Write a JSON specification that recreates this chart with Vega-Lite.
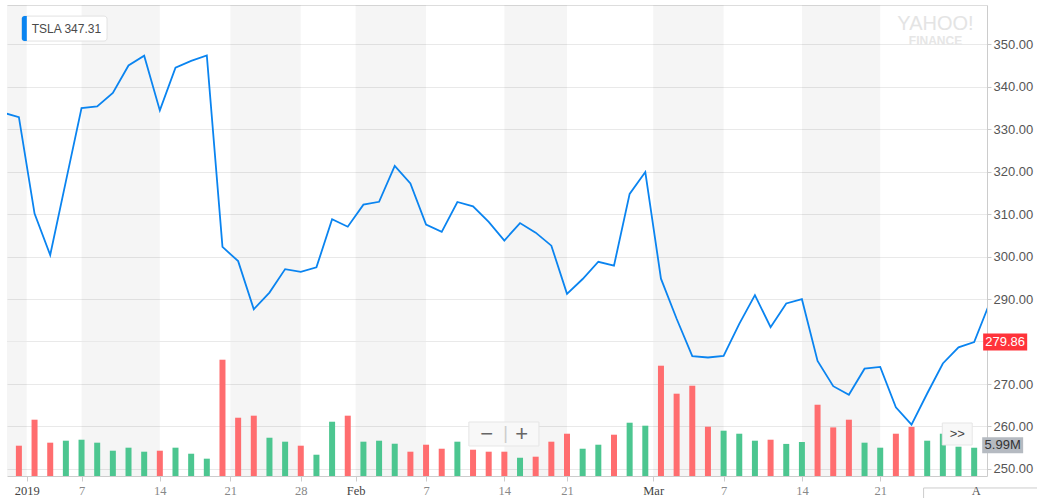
{
  "$schema": "https://vega.github.io/schema/vega-lite/v6.json",
  "width": 980,
  "height": 471,
  "autosize": {"type": "none"},
  "padding": {"left": 7, "top": 5, "right": 50, "bottom": 22},
  "background": "white",
  "config": {"view": {"stroke": null}},
  "datasets": {
    "prices": [
      {"date": "2018-12-28", "close": 333.87, "volume": null},
      {"date": "2018-12-31", "close": 332.80, "volume": 6.42},
      {"date": "2019-01-02", "close": 310.12, "volume": 11.93},
      {"date": "2019-01-03", "close": 300.36, "volume": 7.06},
      {"date": "2019-01-04", "close": 317.69, "volume": 7.48},
      {"date": "2019-01-07", "close": 334.96, "volume": 7.69},
      {"date": "2019-01-08", "close": 335.35, "volume": 7.06},
      {"date": "2019-01-09", "close": 338.53, "volume": 5.36},
      {"date": "2019-01-10", "close": 344.97, "volume": 6.00},
      {"date": "2019-01-11", "close": 347.26, "volume": 5.15},
      {"date": "2019-01-14", "close": 334.40, "volume": 5.36},
      {"date": "2019-01-15", "close": 344.43, "volume": 6.00},
      {"date": "2019-01-16", "close": 346.05, "volume": 4.72},
      {"date": "2019-01-17", "close": 347.31, "volume": 3.67},
      {"date": "2019-01-18", "close": 302.26, "volume": 24.64},
      {"date": "2019-01-22", "close": 298.92, "volume": 12.35},
      {"date": "2019-01-23", "close": 287.59, "volume": 12.78},
      {"date": "2019-01-24", "close": 291.51, "volume": 8.11},
      {"date": "2019-01-25", "close": 297.04, "volume": 7.27},
      {"date": "2019-01-28", "close": 296.38, "volume": 6.42},
      {"date": "2019-01-29", "close": 297.46, "volume": 4.51},
      {"date": "2019-01-30", "close": 308.77, "volume": 11.50},
      {"date": "2019-01-31", "close": 307.02, "volume": 12.78},
      {"date": "2019-02-01", "close": 312.21, "volume": 7.27},
      {"date": "2019-02-04", "close": 312.89, "volume": 7.48},
      {"date": "2019-02-05", "close": 321.35, "volume": 6.84},
      {"date": "2019-02-06", "close": 317.22, "volume": 5.15},
      {"date": "2019-02-07", "close": 307.51, "volume": 6.63},
      {"date": "2019-02-08", "close": 305.80, "volume": 5.78},
      {"date": "2019-02-11", "close": 312.84, "volume": 7.27},
      {"date": "2019-02-12", "close": 311.81, "volume": 5.57},
      {"date": "2019-02-13", "close": 308.17, "volume": 5.15},
      {"date": "2019-02-14", "close": 303.77, "volume": 5.15},
      {"date": "2019-02-15", "close": 307.88, "volume": 3.88},
      {"date": "2019-02-19", "close": 305.62, "volume": 4.09},
      {"date": "2019-02-20", "close": 302.56, "volume": 7.27},
      {"date": "2019-02-21", "close": 291.23, "volume": 8.96},
      {"date": "2019-02-22", "close": 294.71, "volume": 5.78},
      {"date": "2019-02-25", "close": 298.77, "volume": 6.63},
      {"date": "2019-02-26", "close": 297.86, "volume": 8.75},
      {"date": "2019-02-27", "close": 314.74, "volume": 11.29},
      {"date": "2019-02-28", "close": 319.88, "volume": 10.66},
      {"date": "2019-03-01", "close": 294.79, "volume": 23.37},
      {"date": "2019-03-04", "close": 285.36, "volume": 17.44},
      {"date": "2019-03-05", "close": 276.54, "volume": 19.13},
      {"date": "2019-03-06", "close": 276.24, "volume": 10.44},
      {"date": "2019-03-07", "close": 276.59, "volume": 9.60},
      {"date": "2019-03-08", "close": 284.14, "volume": 8.96},
      {"date": "2019-03-11", "close": 290.92, "volume": 7.48},
      {"date": "2019-03-12", "close": 283.36, "volume": 7.69},
      {"date": "2019-03-13", "close": 288.96, "volume": 6.80},
      {"date": "2019-03-14", "close": 289.96, "volume": 7.20},
      {"date": "2019-03-15", "close": 275.43, "volume": 15.10},
      {"date": "2019-03-18", "close": 269.49, "volume": 10.30},
      {"date": "2019-03-19", "close": 267.47, "volume": 11.93},
      {"date": "2019-03-20", "close": 273.60, "volume": 7.06},
      {"date": "2019-03-21", "close": 274.02, "volume": 6.00},
      {"date": "2019-03-22", "close": 264.53, "volume": 8.96},
      {"date": "2019-03-25", "close": 260.42, "volume": 10.40},
      {"date": "2019-03-26", "close": 267.77, "volume": 7.48},
      {"date": "2019-03-27", "close": 274.83, "volume": 8.96},
      {"date": "2019-03-28", "close": 278.62, "volume": 6.21},
      {"date": "2019-03-29", "close": 279.86, "volume": 5.99},
      {"date": "2019-04-01", "close": 289.18, "volume": null}
    ],
    "bands": [
      {"from": 1, "to": 2.5},
      {"from": 6, "to": 11},
      {"from": 15.5, "to": 20},
      {"from": 23.5, "to": 28},
      {"from": 33, "to": 37},
      {"from": 42.5, "to": 47},
      {"from": 52, "to": 57}
    ]
  },
  "layer": [
    {
      "data": {"name": "bands"},
      "mark": {"type": "rect", "fill": "#000000", "opacity": 0.04, "clip": true},
      "encoding": {
        "x": {
          "field": "from",
          "type": "quantitative",
          "scale": {"domain": [1.56, 63.5], "nice": false, "zero": false},
          "axis": {
            "orient": "bottom",
            "title": null,
            "grid": false,
            "values": [2.5, 6, 11, 15.5, 20, 23.5, 28, 33, 37, 42.5, 47, 52, 57],
            "labelExpr": "['2019','7','14','21','28','Feb','7','14','21','Mar','7','14','21'][indexof([2.5,6,11,15.5,20,23.5,28,33,37,42.5,47,52,57], datum.value)]",
            "labelFont": "Liberation Serif",
            "labelFontSize": 12.5,
            "labelColor": {"condition": {"test": "indexof([2.5,23.5,42.5], datum.value) >= 0", "value": "#444444"}, "value": "#888888"},
            "labelPadding": 3,
            "labelFlush": false,
            "labelOverlap": false,
            "labelBound": false,
            "domainColor": "#cccccc",
            "tickColor": "#cccccc",
            "tickSize": 5
          }
        },
        "x2": {"field": "to"}
      }
    },
    {
      "data": {"values": [{}]},
      "mark": {"type": "rule", "color": "#e9e9e9", "strokeWidth": 1},
      "encoding": {
        "y": {"datum": 280, "type": "quantitative", "scale": {"domain": [248.35, 359.2], "nice": false, "zero": false}, "axis": null}
      }
    },
    {
      "data": {"name": "prices"},
      "transform": [
        {"window": [{"op": "row_number", "as": "n"}, {"op": "lag", "field": "close", "as": "prev"}], "sort": [{"field": "date", "order": "ascending"}]}
      ],
      "mark": {"type": "bar", "width": 6, "orient": "vertical", "clip": true},
      "encoding": {
        "x": {"field": "n", "type": "quantitative", "scale": {"domain": [1.56, 63.5], "nice": false, "zero": false}, "axis": null},
        "y": {"field": "volume", "type": "quantitative", "scale": {"domain": [0, 99.8], "nice": false}, "axis": null},
        "color": {"condition": {"test": "datum.close >= datum.prev", "value": "#4cc690"}, "value": "#ff6d6f"}
      }
    },
    {
      "data": {"name": "prices"},
      "transform": [
        {"window": [{"op": "row_number", "as": "n"}], "sort": [{"field": "date", "order": "ascending"}]}
      ],
      "mark": {"type": "line", "color": "#0a84f0", "strokeWidth": 1.8, "clip": true},
      "encoding": {
        "x": {
          "field": "n",
          "type": "quantitative",
          "scale": {"domain": [1.56, 63.5], "nice": false, "zero": false},
          "axis": {"orient": "top", "title": null, "labels": false, "ticks": false, "grid": false, "domainColor": "#dddddd"}
        },
        "y": {
          "field": "close",
          "type": "quantitative",
          "scale": {"domain": [248.35, 359.2], "nice": false, "zero": false},
          "axis": {
            "orient": "right",
            "title": null,
            "values": [250, 260, 270, 290, 300, 310, 320, 330, 340, 350],
            "format": ".2f",
            "grid": true,
            "gridColor": "#e9e9e9",
            "domainColor": "#cccccc",
            "tickColor": "#cccccc",
            "tickSize": 4,
            "labelPadding": 2,
            "labelFont": "Liberation Sans",
            "labelFontSize": 13,
            "labelColor": "#555555"
          }
        }
      }
    },
    {
      "data": {"values": [{}]},
      "layer": [
        {"mark": {"type": "rect", "fill": "white", "stroke": "#e2e2e2", "strokeWidth": 1, "cornerRadius": 3},
         "encoding": {
           "x": {"datum": 2.19, "type": "quantitative", "scale": {"domain": [1.56, 63.5], "nice": false, "zero": false}, "axis": null},
           "x2": {"datum": 7.63},
           "y": {"datum": 356.59, "type": "quantitative", "scale": {"domain": [248.35, 359.2], "nice": false, "zero": false}, "axis": null},
           "y2": {"datum": 350.71}
         }},
        {"mark": {"type": "rect", "fill": "#0a84f0", "cornerRadiusTopLeft": 3, "cornerRadiusBottomLeft": 3},
         "encoding": {
           "x": {"datum": 2.19, "type": "quantitative", "scale": {"domain": [1.56, 63.5], "nice": false, "zero": false}, "axis": null},
           "x2": {"datum": 2.506},
           "y": {"datum": 356.59, "type": "quantitative", "scale": {"domain": [248.35, 359.2], "nice": false, "zero": false}, "axis": null},
           "y2": {"datum": 350.71}
         }},
        {"mark": {"type": "text", "text": "TSLA 347.31", "font": "Liberation Sans", "fontSize": 12, "color": "#4a4a4a", "align": "left", "baseline": "middle"},
         "encoding": {
           "x": {"datum": 2.82, "type": "quantitative", "scale": {"domain": [1.56, 63.5], "nice": false, "zero": false}, "axis": null},
           "y": {"datum": 353.65, "type": "quantitative", "scale": {"domain": [248.35, 359.2], "nice": false, "zero": false}, "axis": null}
         }}
      ]
    },
    {
      "data": {"name": "prices"},
      "transform": [
        {"window": [{"op": "row_number", "as": "n"}], "sort": [{"field": "date", "order": "ascending"}]},
        {"filter": "datum.date == '2019-03-29'"}
      ],
      "encoding": {
        "x": {"field": "n", "type": "quantitative", "scale": {"domain": [1.56, 63.5], "nice": false, "zero": false}, "axis": null},
        "y": {"field": "close", "type": "quantitative", "scale": {"domain": [248.35, 359.2], "nice": false, "zero": false}, "axis": null}
      },
      "layer": [
        {"mark": {"type": "point", "shape": "M-2.59,-1H2.59V1H-2.59Z", "size": 289, "filled": true, "fill": "#ff333a", "opacity": 1, "strokeWidth": 0, "xOffset": 31}},
        {"mark": {"type": "text", "color": "white", "font": "Liberation Sans", "fontSize": 13, "align": "center", "baseline": "middle", "xOffset": 31}, "encoding": {"text": {"field": "close", "format": ".2f"}}}
      ]
    },
    {
      "data": {"name": "prices"},
      "transform": [
        {"window": [{"op": "row_number", "as": "n"}], "sort": [{"field": "date", "order": "ascending"}]},
        {"filter": "datum.date == '2019-03-29'"}
      ],
      "encoding": {
        "x": {"field": "n", "type": "quantitative", "scale": {"domain": [1.56, 63.5], "nice": false, "zero": false}, "axis": null},
        "y": {"field": "volume", "type": "quantitative", "scale": {"domain": [0, 99.8], "nice": false}, "axis": null}
      },
      "layer": [
        {"mark": {"type": "point", "shape": "M-2.56,-1H2.56V1H-2.56Z", "size": 256, "filled": true, "fill": "#b5bac1", "opacity": 1, "strokeWidth": 0, "xOffset": 28.5, "yOffset": -2.5}},
        {"mark": {"type": "text", "color": "#333333", "font": "Liberation Sans", "fontSize": 13, "align": "center", "baseline": "middle", "xOffset": 28.5, "yOffset": -2.5, "text": {"expr": "format(datum.volume, '.2f') + 'M'"}}}
      ]
    },
    {
      "data": {"values": [{}]},
      "encoding": {
        "x": {"datum": 60.53, "type": "quantitative", "scale": {"domain": [1.56, 63.5], "nice": false, "zero": false}, "axis": null}
      },
      "layer": [
        {"mark": {"type": "text", "text": "YAHOO!", "font": "Liberation Sans", "fontSize": 20, "color": "#e4e4e4", "align": "center", "baseline": "middle"},
         "encoding": {"y": {"datum": 354.7, "type": "quantitative", "scale": {"domain": [248.35, 359.2], "nice": false, "zero": false}, "axis": null}}},
        {"mark": {"type": "text", "text": "FINANCE", "font": "Liberation Sans", "fontSize": 12, "fontWeight": "bold", "color": "#e6e6e6", "align": "center", "baseline": "middle"},
         "encoding": {"y": {"datum": 350.7, "type": "quantitative", "scale": {"domain": [248.35, 359.2], "nice": false, "zero": false}, "axis": null}}}
      ]
    },
    {
      "data": {"values": [{}]},
      "encoding": {
        "y": {"datum": 258.24, "type": "quantitative", "scale": {"domain": [248.35, 359.2], "nice": false, "zero": false}, "axis": null}
      },
      "layer": [
        {"mark": {"type": "point", "shape": "M-2.92,-1H2.92V1H-2.92Z", "size": 576, "filled": true, "fill": "#f8f8f8", "stroke": "#e6e6e6", "strokeWidth": 1, "opacity": 1},
         "encoding": {"x": {"datum": 32.97, "type": "quantitative", "scale": {"domain": [1.56, 63.5], "nice": false, "zero": false}, "axis": null}}},
        {"mark": {"type": "text", "text": "−", "font": "Liberation Sans", "fontSize": 22, "color": "#666666", "align": "center", "baseline": "middle", "xOffset": -17.3},
         "encoding": {"x": {"datum": 32.97, "type": "quantitative", "scale": {"domain": [1.56, 63.5], "nice": false, "zero": false}, "axis": null}}},
        {"mark": {"type": "text", "text": "+", "font": "Liberation Sans", "fontSize": 22, "color": "#666666", "align": "center", "baseline": "middle", "xOffset": 17.7},
         "encoding": {"x": {"datum": 32.97, "type": "quantitative", "scale": {"domain": [1.56, 63.5], "nice": false, "zero": false}, "axis": null}}},
        {"mark": {"type": "text", "text": "|", "font": "Liberation Sans", "fontSize": 18, "color": "#cccccc", "align": "center", "baseline": "middle", "xOffset": 1.7},
         "encoding": {"x": {"datum": 32.97, "type": "quantitative", "scale": {"domain": [1.56, 63.5], "nice": false, "zero": false}, "axis": null}}},
        {"mark": {"type": "point", "shape": "M-1.36,-1H1.36V1H-1.36Z", "size": 484, "filled": true, "fill": "#f8f8f8", "stroke": "#e6e6e6", "strokeWidth": 1, "opacity": 1},
         "encoding": {"x": {"datum": 61.92, "type": "quantitative", "scale": {"domain": [1.56, 63.5], "nice": false, "zero": false}, "axis": null}}},
        {"mark": {"type": "text", "text": ">>", "font": "Liberation Sans", "fontSize": 13, "color": "#444444", "align": "center", "baseline": "middle"},
         "encoding": {"x": {"datum": 61.92, "type": "quantitative", "scale": {"domain": [1.56, 63.5], "nice": false, "zero": false}, "axis": null}}}
      ]
    },
    {
      "data": {"values": [{}]},
      "layer": [
        {"mark": {"type": "rect", "fill": "white", "stroke": "#cccccc", "strokeWidth": 1},
         "encoding": {
           "x": {"datum": 59.77, "type": "quantitative", "scale": {"domain": [1.56, 63.5], "nice": false, "zero": false}, "axis": null},
           "x2": {"datum": 68},
           "y": {"datum": 245.53, "type": "quantitative", "scale": {"domain": [248.35, 359.2], "nice": false, "zero": false}, "axis": null},
           "y2": {"datum": 238}
         }},
        {"mark": {"type": "text", "text": "A", "font": "Liberation Serif", "fontSize": 12.5, "color": "#555555", "align": "center", "baseline": "middle"},
         "encoding": {
           "x": {"datum": 63.13, "type": "quantitative", "scale": {"domain": [1.56, 63.5], "nice": false, "zero": false}, "axis": null},
           "y": {"datum": 244.89, "type": "quantitative", "scale": {"domain": [248.35, 359.2], "nice": false, "zero": false}, "axis": null}
         }}
      ]
    }
  ],
  "resolve": {"scale": {"y": "independent"}, "axis": {"x": "independent", "y": "independent"}}
}
